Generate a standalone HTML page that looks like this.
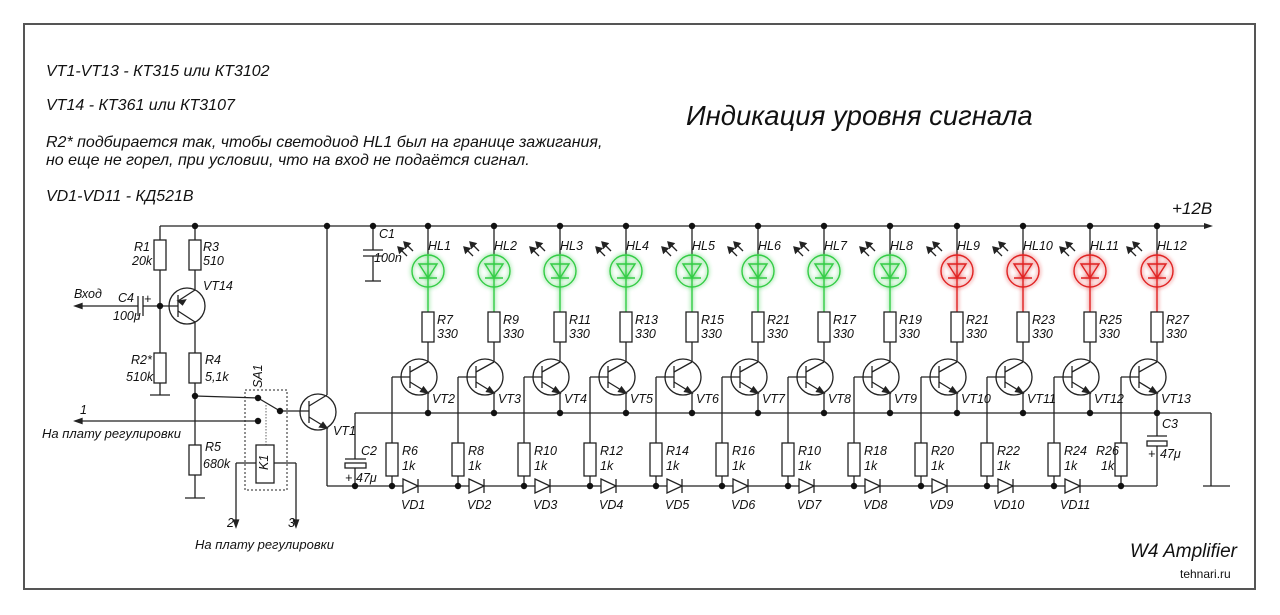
<!DOCTYPE html>
<html><head><meta charset="utf-8"><style>
html,body{margin:0;padding:0;background:#fff;}
svg{display:block;}
text{font-family:"Liberation Sans","DejaVu Sans",sans-serif;font-style:italic;fill:#111;}
.l{font-size:12.5px;}
.h{font-size:16px;}
</style></head><body>
<svg id="s" width="1280" height="615" viewBox="0 0 1280 615" xmlns="http://www.w3.org/2000/svg">
<defs>
<filter id="gl" x="-50%" y="-50%" width="200%" height="200%"><feGaussianBlur stdDeviation="2" result="b"/><feMerge><feMergeNode in="b"/><feMergeNode in="SourceGraphic"/></feMerge></filter>
</defs>
<rect x="24" y="24" width="1231" height="565" fill="none" stroke="#555" stroke-width="2"/>
<g id="g" stroke="#222" stroke-width="1.3" fill="none"></g>
<g id="dots" fill="#111"></g>
<text class="h" x="46" y="76">VT1-VT13 - КТ315 или КТ3102</text>
<text class="h" x="46" y="110">VT14 - КТ361 или КТ3107</text>
<text class="h" x="46" y="147">R2* подбирается так, чтобы светодиод HL1 был на границе зажигания,</text>
<text class="h" x="46" y="165">но еще не горел, при условии, что на вход не подаётся сигнал.</text>
<text class="h" x="46" y="201">VD1-VD11 - КД521В</text>
<text x="686" y="125" style="font-size:27.5px">Индикация уровня сигнала</text>
<text x="1172" y="214" style="font-size:17px">+12В</text>
<text x="1130" y="557" style="font-size:19px">W4 Amplifier</text>
<text x="1180" y="578" style="font-size:12px;font-style:normal">tehnari.ru</text>
<text class="l" x="134" y="251">R1</text><text class="l" x="132" y="265">20k</text>
<text class="l" x="203" y="251">R3</text><text class="l" x="203" y="265">510</text>
<text class="l" x="203" y="290">VT14</text>
<text class="l" x="74" y="298">Вход</text>
<text class="l" x="118" y="302">C4</text><text class="l" x="113" y="320">100μ</text>
<text class="l" x="144" y="303">+</text>
<text class="l" x="131" y="364">R2*</text><text class="l" x="126" y="381">510k</text>
<text class="l" x="205" y="364">R4</text><text class="l" x="205" y="381">5,1k</text>
<text class="l" x="205" y="451">R5</text><text class="l" x="203" y="468">680k</text>
<text class="l" x="80" y="414">1</text>
<text x="42" y="438" style="font-size:13px">На плату регулировки</text>
<text x="195" y="549" style="font-size:13px">На плату регулировки</text>
<text class="l" x="227" y="527">2</text><text class="l" x="288" y="527">3</text>
<text class="l" x="0" y="0" transform="translate(262,388) rotate(-90)">SA1</text>
<text class="l" x="0" y="0" transform="translate(268,470) rotate(-90)">K1</text>
<text class="l" x="333" y="435">VT1</text>
<text class="l" x="361" y="455">C2</text><text class="l" x="356" y="482">47μ</text><text class="l" x="345" y="482">+</text>
<text class="l" x="379" y="238">C1</text><text class="l" x="374" y="262">100n</text>
<text class="l" x="1162" y="428">C3</text><text class="l" x="1148" y="458">+</text><text class="l" x="1160" y="458">47μ</text>
<text class="l" x="428" y="250">HL1</text><text class="l" x="494" y="250">HL2</text><text class="l" x="560" y="250">HL3</text><text class="l" x="626" y="250">HL4</text><text class="l" x="692" y="250">HL5</text><text class="l" x="758" y="250">HL6</text><text class="l" x="824" y="250">HL7</text><text class="l" x="890" y="250">HL8</text><text class="l" x="957" y="250">HL9</text><text class="l" x="1023" y="250">HL10</text><text class="l" x="1090" y="250">HL11</text><text class="l" x="1157" y="250">HL12</text>
<text class="l" x="437" y="324">R7</text><text class="l" x="437" y="338">330</text>
<text class="l" x="503" y="324">R9</text><text class="l" x="503" y="338">330</text>
<text class="l" x="569" y="324">R11</text><text class="l" x="569" y="338">330</text>
<text class="l" x="635" y="324">R13</text><text class="l" x="635" y="338">330</text>
<text class="l" x="701" y="324">R15</text><text class="l" x="701" y="338">330</text>
<text class="l" x="767" y="324">R21</text><text class="l" x="767" y="338">330</text>
<text class="l" x="833" y="324">R17</text><text class="l" x="833" y="338">330</text>
<text class="l" x="899" y="324">R19</text><text class="l" x="899" y="338">330</text>
<text class="l" x="966" y="324">R21</text><text class="l" x="966" y="338">330</text>
<text class="l" x="1032" y="324">R23</text><text class="l" x="1032" y="338">330</text>
<text class="l" x="1099" y="324">R25</text><text class="l" x="1099" y="338">330</text>
<text class="l" x="1166" y="324">R27</text><text class="l" x="1166" y="338">330</text>
<text class="l" x="432" y="403">VT2</text><text class="l" x="498" y="403">VT3</text><text class="l" x="564" y="403">VT4</text><text class="l" x="630" y="403">VT5</text><text class="l" x="696" y="403">VT6</text><text class="l" x="762" y="403">VT7</text><text class="l" x="828" y="403">VT8</text><text class="l" x="894" y="403">VT9</text><text class="l" x="961" y="403">VT10</text><text class="l" x="1027" y="403">VT11</text><text class="l" x="1094" y="403">VT12</text><text class="l" x="1161" y="403">VT13</text>
<text class="l" x="402" y="455">R6</text><text class="l" x="402" y="470">1k</text>
<text class="l" x="468" y="455">R8</text><text class="l" x="468" y="470">1k</text>
<text class="l" x="534" y="455">R10</text><text class="l" x="534" y="470">1k</text>
<text class="l" x="600" y="455">R12</text><text class="l" x="600" y="470">1k</text>
<text class="l" x="666" y="455">R14</text><text class="l" x="666" y="470">1k</text>
<text class="l" x="732" y="455">R16</text><text class="l" x="732" y="470">1k</text>
<text class="l" x="798" y="455">R10</text><text class="l" x="798" y="470">1k</text>
<text class="l" x="864" y="455">R18</text><text class="l" x="864" y="470">1k</text>
<text class="l" x="931" y="455">R20</text><text class="l" x="931" y="470">1k</text>
<text class="l" x="997" y="455">R22</text><text class="l" x="997" y="470">1k</text>
<text class="l" x="1064" y="455">R24</text><text class="l" x="1064" y="470">1k</text>
<text class="l" x="1096" y="455">R26</text><text class="l" x="1101" y="470">1k</text>
<text class="l" x="401" y="509">VD1</text><text class="l" x="467" y="509">VD2</text><text class="l" x="533" y="509">VD3</text><text class="l" x="599" y="509">VD4</text><text class="l" x="665" y="509">VD5</text><text class="l" x="731" y="509">VD6</text><text class="l" x="797" y="509">VD7</text><text class="l" x="863" y="509">VD8</text><text class="l" x="929" y="509">VD9</text><text class="l" x="993" y="509">VD10</text><text class="l" x="1060" y="509">VD11</text>
</svg>
<script>
var g=document.getElementById('g'),D=document.getElementById('dots'),NS='http://www.w3.org/2000/svg';
function el(t,a,p){var e=document.createElementNS(NS,t);for(var k in a)e.setAttribute(k,a[k]);(p||g).appendChild(e);return e;}
function L(x1,y1,x2,y2,p,st){var e=el('line',{x1:x1,y1:y1,x2:x2,y2:y2},p);if(st)e.setAttribute('style',st);return e;}
function P(d,a){a=a||{};a.d=d;return el('path',a);}
function dot(x,y){el('circle',{cx:x,cy:y,r:3.2},D);}
function R(x,y1,y2){el('rect',{x:x-6,y:y1,width:12,height:y2-y1,fill:'#fff'});}
function arrowL(x,y){P('M'+x+' '+y+'l7 -2.5v5z',{fill:'#222'});}
function arrowD(x,y){P('M'+x+' '+y+'l-2.5 -7h5z',{fill:'#222'});}
function npn(cx,cy,bx){
  el('circle',{cx:cx-9,cy:cy,r:18});
  L(cx-18,cy-11,cx-18,cy+11);
  L(bx,cy,cx-18,cy);
  L(cx-18,cy-5,cx,cy-15);L(cx-18,cy+5,cx,cy+16);
  P('M'+cx+' '+(cy+16)+'l-7.5 -1.5l3 -4.5z',{fill:'#222'});
}
L(160,226,1205,226);P('M1213 226l-9 -3v6z',{fill:'#222',stroke:'none'});
L(355,413,1211,413);L(1211,413,1211,486);L(1203,486,1230,486);
L(327,486,1157,486);
var C=[428,494,560,626,692,758,824,890,957,1023,1090,1157];
C.forEach(function(c,i){
  var b=c-36,red=i>=8,col=red?'#e02020':'#33cc44';
  dot(c,226);dot(c,413);dot(b,486);
  L(c,226,c,254);
  var lg=el('g',{stroke:col,'stroke-width':1.4,fill:'none',filter:'url(#gl)'});
  el('circle',{cx:c,cy:271,r:16},lg);
  L(c,254,c,312,lg);
  el('path',{d:'M'+(c-9)+' 264h18l-9 14z'},lg);L(c-9,278,c+9,278,lg);
  L(c-30,247,c-21,256);L(c-24,242,c-15,251);
  P('M'+(c-30)+' 247l6 1.5l-4.5 4.5z',{fill:'#222'});P('M'+(c-24)+' 242l6 1.5l-4.5 4.5z',{fill:'#222'});
  R(c,312,342);L(c,342,c,362);
  npn(c,377,b);L(c,393,c,413);
  L(b,377,b,443);R(b,443,476);L(b,476,b,486);
  if(i<11){P('M'+(b+11)+' 479l15 7l-15 7z',{fill:'#fff'});L(b+26,479,b+26,493);}
});
L(1157,413,1157,436);L(1147,436,1167,436);el('rect',{x:1147,y:441,width:20,height:5,fill:'#fff'});L(1157,446,1157,486);
dot(373,226);L(373,226,373,250);L(363,250,383,250);L(363,256,383,256);L(373,256,373,281);L(365,281,381,281);
L(355,413,355,459);L(345,459,366,459);el('rect',{x:345,y:463,width:21,height:5,fill:'#fff'});L(355,468,355,486);dot(355,486);
dot(327,226);L(327,226,327,395);
el('circle',{cx:318,cy:412,r:18});L(309,401,309,423);L(280,411,309,411);
L(309,406,327,395);L(309,417,327,428);P('M327 428l-7.5 -1l3.5 -4.5z',{fill:'#222'});
L(327,428,327,486);
L(160,226,160,240);R(160,240,270);L(160,270,160,353);R(160,353,383);L(160,383,160,395);L(150,395,170,395);
dot(195,226);L(195,226,195,240);R(195,240,270);L(195,270,195,290);
el('circle',{cx:187,cy:306,r:18});L(178,295,178,317);
L(178,301,195,290);L(178,311,195,322);P('M178 301l7.5 -1l-3 4.8z',{fill:'#222'});
L(195,322,195,353);R(195,353,383);L(195,383,195,445);R(195,445,475);L(195,475,195,498);L(185,498,205,498);
dot(195,396);
L(80,306,138,306);arrowL(75,306);L(138,296,138,316);L(143,296,143,316);L(143,306,178,306);dot(160,306);
L(195,396,258,398);dot(258,398);dot(258,421);dot(280,411);L(258,398,280,411);
L(80,421,258,421);arrowL(75,421);
el('rect',{x:245,y:390,width:42,height:100,'stroke-dasharray':'2,2','stroke-width':1});
L(266,405,266,445,null,'stroke-dasharray:1.5,1.5;stroke:#888');
el('rect',{x:256,y:445,width:18,height:38,fill:'#fff'});
L(256,463,236,463);L(236,463,236,520);arrowD(236,527);
L(274,463,296,463);L(296,463,296,520);arrowD(296,527);
</script>
</body></html>
